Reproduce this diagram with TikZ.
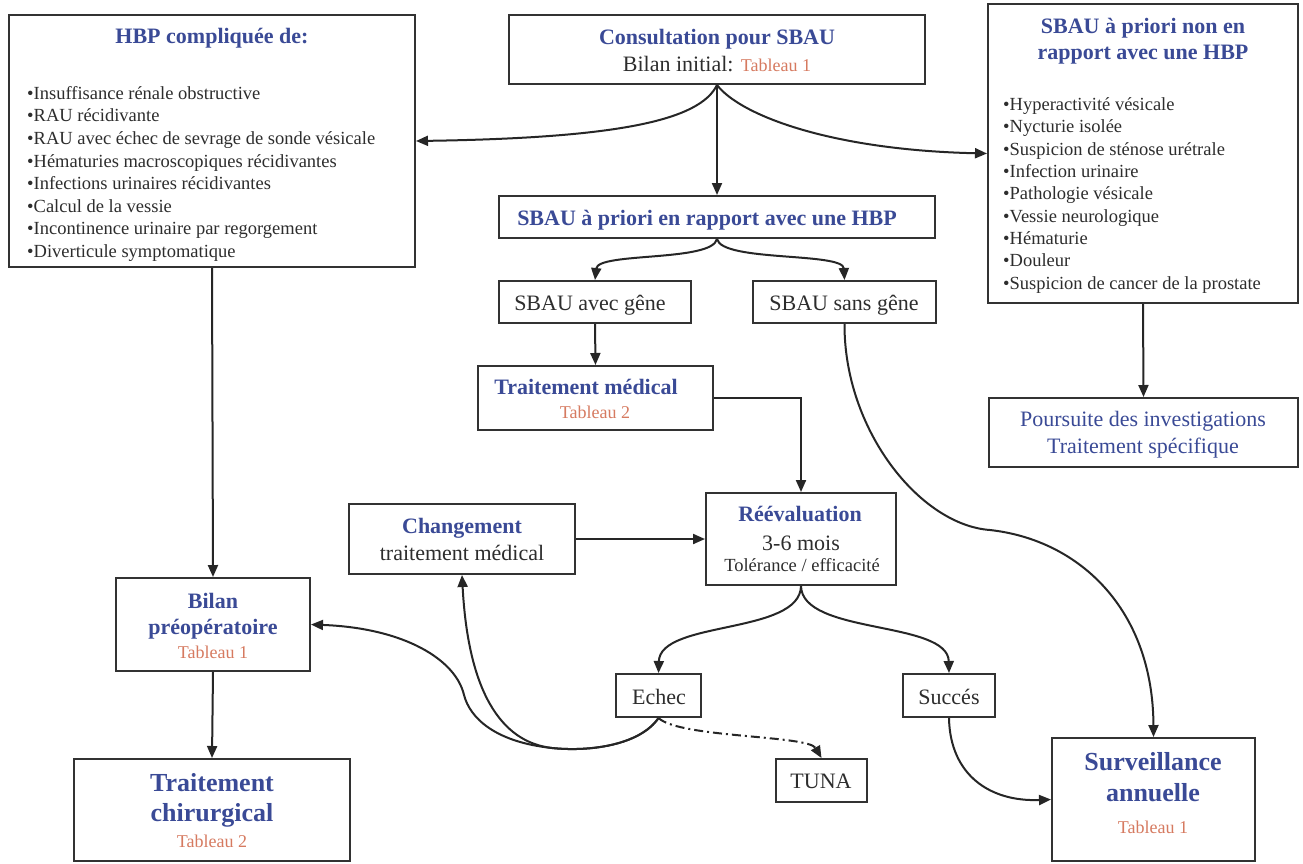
\documentclass[tikz,border=0pt]{standalone}
\usepackage{fontspec}
\setmainfont{Liberation Serif}
\usetikzlibrary{arrows.meta,fit}
\definecolor{tblue}{RGB}{58,74,150}
\definecolor{torange}{RGB}{214,122,96}
\definecolor{tgray}{RGB}{45,45,45}
\definecolor{bgray}{RGB}{50,50,50}
\begin{document}
\begin{tikzpicture}[x=1pt,y=-1pt,
  box/.style={draw=bgray, line width=2pt, inner sep=0pt},
  lbl/.style={inner sep=0pt, anchor=base},
  ttl/.style={lbl, font=\fontsize{22}{26}\selectfont\bfseries, text=tblue},
  bigttl/.style={lbl, font=\fontsize{26}{30}\selectfont\bfseries, text=tblue},
  txt/.style={lbl, font=\fontsize{22}{26}\selectfont, text=tgray},
  btxt/.style={lbl, font=\fontsize{22}{26}\selectfont, text=tblue},
  smtxt/.style={lbl, font=\fontsize{18.5}{22}\selectfont, text=tgray},
  tab/.style={lbl, font=\fontsize{18}{22}\selectfont, text=torange},
  item/.style={inner sep=0pt, anchor=base west, font=\fontsize{18.5}{22}\selectfont, text=tgray},
  arr/.style={draw=black!85, line width=2pt, -{Triangle[length=12pt,width=10pt]}},
  dasharr/.style={arr, dash pattern=on 9pt off 4pt on 2pt off 4pt}
]
\useasboundingbox (0,0) rectangle (1303,863);
\fill[white] (0,0) rectangle (1303,863);

% boxes
\node[box, fit={(9,15) (415,267)}] (hbp) {};
\node[box, fit={(509,15) (925,84)}] (cons) {};
\node[box, fit={(988,4) (1298,303)}] (nonhbp) {};
\node[box, fit={(499,196) (935,238)}] (hbpr) {};
\node[box, fit={(499,281) (691,323)}] (avec) {};
\node[box, fit={(753,281) (936,323)}] (sans) {};
\node[box, fit={(989,398) (1298,467)}] (pours) {};
\node[box, fit={(478,366) (713,430)}] (tmed) {};
\node[box, fit={(349,504) (575,574)}] (chg) {};
\node[box, fit={(706,493) (896,585)}] (reev) {};
\node[box, fit={(116,578) (310,671)}] (bilan) {};
\node[box, fit={(74,759) (350,861)}] (chir) {};
\node[box, fit={(616,674) (701,717)}] (echec) {};
\node[box, fit={(903,674) (995,717)}] (succ) {};
\node[box, fit={(776,759) (867,802)}] (tuna) {};
\node[box, fit={(1052,738) (1255,861)}] (surv) {};

% texts
\node[ttl] (hbp-t) at (212,43.3) {HBP compliquée de:};
\foreach \t [count=\i from 0] in {Insuffisance rénale obstructive, RAU récidivante, RAU avec échec de sevrage de sonde vésicale, Hématuries macroscopiques récidivantes, Infections urinaires récidivantes, Calcul de la vessie, Incontinence urinaire par regorgement, Diverticule symptomatique}
  \node[item] (hbp-i\i) at (27,{99.3+22.6*\i}) {•\t};

\node[ttl] (cons-t) at (717,44) {Consultation pour SBAU};
\node[txt] (cons-s) at (717,71) {Bilan initial: {\fontsize{18}{22}\selectfont\color{torange}Tableau 1}};

\node[ttl] (non-t1) at (1143,33.3) {SBAU à priori non en};
\node[ttl] (non-t2) at (1143,59.3) {rapport avec une HBP};
\foreach \t [count=\i from 0] in {Hyperactivité vésicale, Nycturie isolée, Suspicion de sténose urétrale, Infection urinaire, Pathologie vésicale, Vessie neurologique, Hématurie, Douleur, Suspicion de cancer de la prostate}
  \node[item] (non-i\i) at (1003,{110.5+22.35*\i}) {•\t};

\node[ttl] (hbpr-t) at (707,225) {SBAU à priori en rapport avec une HBP};
\node[txt] (avec-t) at (590,310.7) {SBAU avec gêne};
\node[txt] (sans-t) at (844,310.7) {SBAU sans gêne};

\node[btxt] (pours-t1) at (1143,426.7) {Poursuite des investigations};
\node[btxt] (pours-t2) at (1143,453.3) {Traitement spécifique};

\node[ttl] (tmed-t) at (586,394.3) {Traitement médical};
\node[tab] (tmed-s) at (595,418.3) {Tableau 2};

\node[ttl] (chg-t) at (462,533.3) {Changement};
\node[txt] (chg-s) at (462,560) {traitement médical};

\node[ttl] (reev-t) at (800,521.7) {Réévaluation};
\node[txt] (reev-s) at (801,550) {3-6 mois};
\node[smtxt] (reev-u) at (802,571.7) {Tolérance / efficacité};

\node[ttl] (bilan-t1) at (213,608.3) {Bilan};
\node[ttl] (bilan-t2) at (213,634) {préopératoire};
\node[tab] (bilan-s) at (213,658.3) {Tableau 1};

\node[bigttl] (chir-t1) at (212,791.7) {Traitement};
\node[bigttl] (chir-t2) at (212,821.7) {chirurgical};
\node[tab] (chir-s) at (212,847.3) {Tableau 2};

\node[txt] (echec-t) at (659,704) {Echec};
\node[txt] (succ-t) at (949,704) {Succés};
\node[txt] (tuna-t) at (821,788.3) {TUNA};

\node[bigttl] (surv-t1) at (1153,770) {Surveillance};
\node[bigttl] (surv-t2) at (1153,801.7) {annuelle};
\node[tab] (surv-s) at (1153,833) {Tableau 1};

% connectors
\draw[arr] (cons.south) .. controls (700,120) and (620,138) .. (hbp.east);
\draw[arr] (cons.south) .. controls (740,115) and (830,150) .. (nonhbp.west);
\draw[arr] (cons.south) -- (hbpr.north);
\draw[arr] (hbpr.south) .. controls (712,262) and (598,252) .. (avec.north);
\draw[arr] (hbpr.south) .. controls (722,262) and (843,252) .. (sans.north);
\draw[arr] (avec.south) -- (tmed.north);
\draw[arr] (tmed.east) -| (reev.north);
\draw[arr] (sans.south) .. controls (844,430) and (920,525) .. (990,530)
  .. controls (1080,540) and (1153,610) .. (surv.north);
\draw[arr] (nonhbp.south) -- (pours.north);
\draw[arr] (hbp.south) -- (bilan.north);
\draw[arr] (bilan.south) -- (chir.north);
\draw[arr] (chg.east) -- (reev.west);
\draw[arr] (reev.south) .. controls (800,635) and (660,620) .. (echec.north);
\draw[arr] (reev.south) .. controls (802,635) and (948,620) .. (succ.north);
\draw[dasharr] (echec.south) .. controls (680,738) and (808,735) .. (tuna.north);
\draw[arr] (echec.south) .. controls (640,745) and (590,752) .. (552,748)
  .. controls (500,742) and (468,690) .. (chg.south);
\draw[arr] (echec.south) .. controls (640,745) and (590,752) .. (552,748)
  .. controls (495,742) and (470,718) .. (464,695)
  .. controls (456,660) and (405,628) .. (bilan.east);
\draw[arr] (succ.south) .. controls (950,775) and (990,802) .. (surv.west);
\end{tikzpicture}
\end{document}
